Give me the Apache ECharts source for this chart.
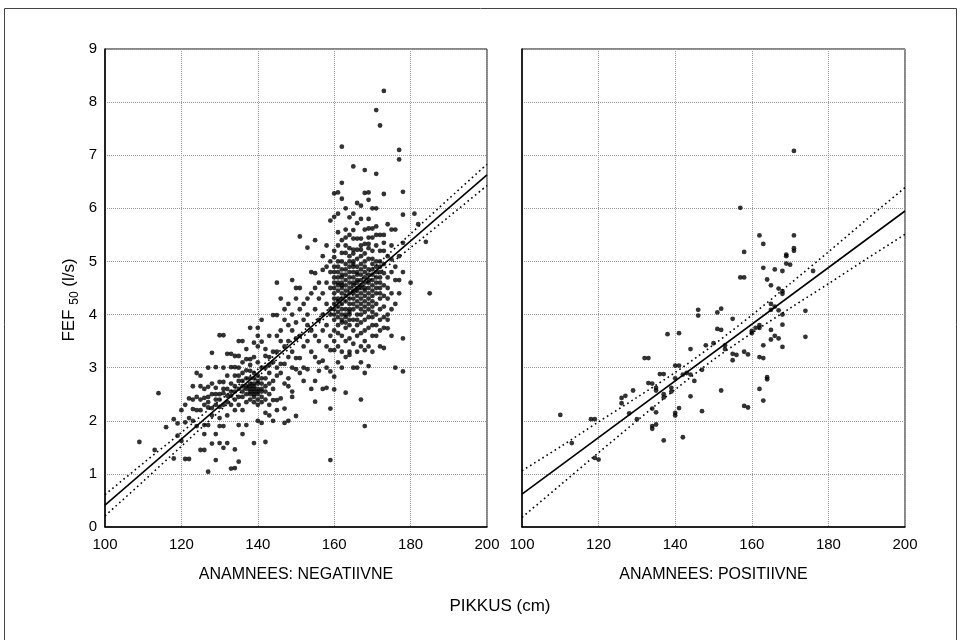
<!DOCTYPE html>
<html>
<head>
<meta charset="utf-8">
<script src="https://cdn.jsdelivr.net/npm/echarts@6/dist/echarts.min.js"></script>
<style>
html,body{margin:0;padding:0;background:#fff;}
#c{width:964px;height:640px;}
</style>
</head>
<body>
<div id="c"></div>
<script>
// ---------- data ----------
const panelTitles = ['ANAMNEES: NEGATIIVNE', 'ANAMNEES: POSITIIVNE'];
const xAxisTitle = 'PIKKUS (cm)';
const xTicks = [100, 120, 140, 160, 180, 200];
const yTicks = [0, 1, 2, 3, 4, 5, 6, 7, 8, 9];

// Left panel (negative history): [height cm, FEF50 l/s]
const negPoints = [
[109,1.6],[113,1.45],[114,2.52],[116,1.88],[118,2.03],[118,1.29],[119,1.95],[119,1.72],[120,2.2],[120,1.62],[121,1.97],[121,2.3],[121,1.28],[122,1.28],
[122,2.42],[122,2.05],[123,2.22],[123,2.65],[123,2.0],[124,2.9],[124,2.2],[124,1.9],[125,2.4],[125,2.65],[125,2.85],[125,1.45],
[126,1.45],[126,1.75],[126,1.92],[126,2.43],[126,2.6],[127,1.04],[127,2.25],[127,2.45],[127,2.64],[127,1.92],[127,3.0],[128,2.24],[128,2.7],[128,3.28],[128,1.57],[128,2.1],
[129,1.26],[129,3.01],[129,2.5],[129,2.3],[129,1.75],[129,2.62],[130,1.58],[130,1.9],[130,2.26],[130,2.73],[130,3.61],[130,2.5],[130,2.05],
[131,1.49],[131,3.61],[131,2.52],[131,2.73],[131,1.9],[131,2.3],[131,3.0],[132,1.58],[132,3.26],[132,2.47],[132,2.1],[132,2.85],[132,2.6],
[133,3.26],[133,3.01],[133,2.47],[133,2.3],[133,2.7],[133,1.1],[134,1.46],[134,3.01],[134,1.11],[134,2.55],[134,3.22],[134,2.85],[134,2.2],
[135,3.22],[135,1.23],[135,1.92],[135,2.3],[135,3.0],[135,2.6],[135,3.5],[135,2.75],[136,3.5],[136,1.75],[136,2.45],[136,2.9],[136,2.65],[136,3.1],[136,2.2],
[137,3.16],[137,2.5],[137,2.35],[137,2.8],[137,1.92],[137,3.35],[137,2.6],[138,2.5],[138,2.94],[138,3.16],[138,2.4],[138,3.05],[138,2.65],[138,2.7],[138,3.75],
[139,1.58],[139,3.47],[139,2.55],[139,2.45],[139,2.9],[139,3.2],[139,2.35],[139,2.7],[139,2.5],[140,3.75],[140,2.5],[140,2.4],[140,3.4],[140,2.6],[140,2.85],[140,2.0],[140,3.1],[140,2.3],[140,3.6],
[141,2.35],[141,3.49],[141,1.96],[141,2.7],[141,3.9],[141,2.55],[141,3.0],[141,2.45],[142,3.22],[142,2.4],[142,1.6],[142,2.15],[142,3.0],[142,2.8],[142,3.35],[142,2.55],
[143,3.05],[143,2.5],[143,2.9],[143,2.3],[143,3.6],[143,3.2],[143,2.1],[143,2.7],[144,3.1],[144,2.39],[144,3.99],[144,2.75],[144,2.0],[144,3.3],[144,2.6],
[145,2.39],[145,3.99],[145,3.0],[145,3.3],[145,3.6],[145,2.2],[145,4.6],[145,2.85],
[146,2.42],[146,3.07],[146,3.5],[146,2.9],[146,3.7],[146,4.3],[147,1.96],[147,3.07],[147,2.23],[147,3.4],[147,2.7],[147,3.9],[147,4.1],
[148,2.8],[148,2.65],[148,3.2],[148,3.5],[148,3.8],[148,4.2],[148,2.0],[149,2.55],[149,2.45],[149,4.65],[149,3.3],[149,3.0],[149,3.7],[149,4.0],
[150,2.09],[150,3.18],[150,2.97],[150,4.5],[150,3.55],[150,3.85],[150,4.3],[151,5.47],[151,3.18],[151,4.5],[151,2.9],[151,3.6],[151,4.1],[152,3.0],[152,3.4],[152,3.9],[152,4.2],[152,2.75],
[153,2.97],[153,5.26],[153,3.5],[153,4.3],[153,3.8],[153,4.0],[154,3.3],[154,4.4],[154,3.7],[154,2.6],[154,4.8],
[155,5.4],[155,4.78],[155,2.75],[155,2.36],[155,3.6],[155,4.1],[155,4.5],[155,3.2],[156,2.94],[156,3.9],[156,4.3],[156,3.5],[156,4.6],[156,3.1],
[157,5.1],[157,3.13],[157,4.84],[157,4.0],[157,3.7],[157,4.4],[157,2.6],[158,2.62],[158,4.2],[158,3.8],[158,4.9],[158,3.4],[158,4.6],[158,3.0],[158,5.3],
[159,5.77],[159,2.93],[159,2.23],[159,1.26],[159,3.33],[159,4.1],[159,4.5],[159,4.0],[159,3.6],[159,4.8],[159,5.0],
[160,6.28],[160,5.84],[160,5.08],[160,2.83],[160,2.59],[160,3.33],[160,4.0],[160,4.2],[160,4.4],[160,4.6],[160,4.8],[160,3.9],[160,4.1],[160,3.7],[160,5.2],[160,4.3],[160,3.5],[160,4.9],
[161,5.0],[161,4.7],[161,4.45],[161,4.15],[161,3.95],[161,3.8],[161,4.05],[161,5.3],[161,5.55],[161,3.4],[161,4.3],[161,4.9],[161,3.1],[161,4.6],[161,5.9],[161,6.3],
[162,7.16],[162,6.48],[162,6.18],[162,5.16],[162,4.85],[162,4.6],[162,4.4],[162,4.2],[162,4.0],[162,3.85],[162,3.6],[162,3.3],[162,5.0],[162,4.7],[162,4.5],[162,5.4],[162,3.9],[162,4.1],[162,3.0],
[163,2.53],[163,5.16],[163,4.95],[163,4.75],[163,4.55],[163,4.35],[163,4.1],[163,3.95],[163,3.75],[163,3.5],[163,5.3],[163,5.6],[163,4.0],[163,4.25],[163,4.65],[163,3.2],[163,6.0],
[164,3.24],[164,5.83],[164,4.8],[164,4.6],[164,4.4],[164,4.2],[164,4.0],[164,3.8],[164,3.55],[164,5.0],[164,5.25],[164,4.9],[164,4.3],[164,4.05],[164,3.9],[164,5.5],[164,3.3],
[165,6.79],[165,5.59],[165,5.43],[165,5.22],[165,5.0],[165,4.8],[165,4.6],[165,4.45],[165,4.3],[165,4.1],[165,3.9],[165,3.7],[165,3.45],[165,4.95],[165,4.7],[165,4.2],[165,3.0],[165,5.9],
[166,5.72],[166,5.43],[166,5.22],[166,3.0],[166,4.9],[166,4.65],[166,4.5],[166,4.35],[166,4.15],[166,4.0],[166,3.8],[166,3.6],[166,3.3],[166,5.05],[166,4.75],[166,4.25],[166,6.1],
[167,6.05],[167,5.43],[167,5.22],[167,2.4],[167,4.95],[167,4.75],[167,4.55],[167,4.4],[167,4.2],[167,4.0],[167,3.85],[167,3.65],[167,3.4],[167,5.1],[167,4.85],[167,4.3],[167,3.1],[167,5.8],
[168,6.72],[168,6.29],[168,5.33],[168,3.33],[168,2.9],[168,1.9],[168,5.0],[168,4.8],[168,4.6],[168,4.45],[168,4.25],[168,4.05],[168,3.9],[168,3.7],[168,5.15],[168,4.9],[168,4.35],[168,3.5],[168,5.6],
[169,6.16],[169,5.62],[169,5.33],[169,3.03],[169,5.05],[169,4.85],[169,4.65],[169,4.5],[169,4.3],[169,4.1],[169,3.95],[169,3.75],[169,5.25],[169,4.2],[169,3.4],[169,5.8],[169,6.3],
[170,5.62],[170,5.45],[170,5.2],[170,4.95],[170,4.75],[170,4.55],[170,4.35],[170,4.15],[170,3.95],[170,3.8],[170,3.6],[170,5.05],[170,4.45],[170,6.0],[170,3.3],
[171,7.85],[171,6.65],[171,6.0],[171,5.66],[171,5.3],[171,5.0],[171,4.8],[171,4.6],[171,4.4],[171,4.2],[171,4.0],[171,3.8],[171,5.5],[171,4.9],[171,3.6],
[172,7.56],[172,5.5],[172,5.2],[172,4.9],[172,4.7],[172,4.5],[172,4.3],[172,4.1],[172,3.9],[172,3.7],[172,5.0],[172,4.6],[172,3.4],
[173,8.21],[173,6.27],[173,5.5],[173,5.2],[173,3.37],[173,4.78],[173,4.55],[173,4.35],[173,4.15],[173,3.95],[173,4.95],[173,3.75],[173,5.35],
[174,3.74],[174,5.1],[174,4.7],[174,4.5],[174,4.3],[174,4.0],[174,5.7],[174,3.9],
[175,5.6],[175,5.04],[175,4.8],[175,4.4],[175,4.1],[175,3.6],[175,5.3],
[176,5.6],[176,4.65],[176,4.9],[176,4.2],[176,3.0],
[177,7.1],[177,6.92],[177,4.65],[177,5.1],[177,4.4],
[178,6.31],[178,5.88],[178,5.35],[178,3.55],[178,2.93],[178,4.8],
[180,4.6],[181,5.9],[182,5.7],[185,4.4],[184,5.37],
[160,4.5],[160,4.7],[161,4.25],[161,4.55],[161,4.8],[162,4.3],[162,4.55],[162,4.75],[163,4.45],[163,4.85],[164,4.5],[164,4.7],[164,4.1],
[165,4.4],[165,4.55],[165,4.9],[166,4.45],[166,4.6],[166,4.8],[167,4.5],[167,4.65],[167,4.1],[168,4.5],[168,4.7],[168,4.15],[169,4.4],
[169,4.6],[169,4.75],[170,4.25],[170,4.65],[170,4.85],[171,4.5],[171,4.7],[172,4.4],[172,4.8],[163,5.45],[165,5.15],[167,5.3],[169,5.45],
[161,3.65],[163,3.85],[166,3.9],[170,4.05],[164,5.1],
[133,2.55],[134,2.65],[135,2.45],[136,2.55],[136,2.75],[137,2.65],[137,2.95],[138,2.55],[138,2.8],[139,2.6],[139,2.8],[140,2.55],[140,2.7],
[141,2.6],[141,2.8],[142,2.65],[135,2.85],[134,2.4],[132,2.35],[131,2.6],[130,2.4],[129,2.4],[128,2.5],[127,2.35],[126,2.3],[125,2.2],
[124,2.45],[123,2.4],[139,2.65],[140,2.75],[138,2.6]
];

// Right panel (positive history)
const posPoints = [
[110,2.11],[113,1.58],[118,2.03],[119,2.03],[119,1.3],[120,1.27],[126,2.43],[127,2.47],[126,2.33],[129,2.57],[128,2.14],[130,2.03],
[132,3.18],[133,3.18],[133,2.71],[134,2.7],[134,1.9],[134,1.85],[135,1.93],[135,2.57],[135,2.62],[136,2.88],[137,2.88],[134,2.23],[135,2.16],
[137,2.5],[137,2.44],[137,1.63],[139,2.55],[139,2.62],[138,3.63],[140,2.8],[140,3.04],[141,3.04],[140,2.15],[140,2.1],[141,3.65],[141,2.24],
[142,1.69],[142,2.87],[143,2.9],[144,2.87],[144,2.46],[144,3.35],[145,2.75],[147,2.96],[147,2.18],[146,4.09],[146,3.98],[148,3.42],[150,3.46],
[151,3.73],[152,3.71],[151,4.04],[152,4.11],[152,2.57],[153,3.42],[153,3.35],[155,3.92],[155,3.26],[156,3.24],[155,3.14],[157,4.7],[158,4.7],
[157,6.01],[158,5.18],[158,3.3],[159,3.25],[158,2.28],[159,2.25],[160,3.69],[160,3.65],[162,3.75],[162,3.8],[162,3.2],[163,3.18],[162,2.6],
[163,2.38],[164,2.82],[164,2.78],[163,3.42],[163,4.88],[162,5.49],[163,5.33],[164,4.66],[165,4.55],[165,3.71],[165,3.53],[165,4.2],[166,4.15],
[166,4.85],[166,3.6],[167,3.55],[167,4.08],[167,4.49],[168,4.44],[168,4.39],[168,3.39],[168,4.0],[168,4.82],[168,3.81],[169,5.13],[169,5.1],
[169,4.96],[170,4.94],[171,5.2],[171,5.25],[171,7.08],[171,5.49],[174,4.07],[174,3.58],[176,4.82],[165,4.09],[161,3.75]
];

// Regression lines and confidence bands (read at x = 100,110,...,200)
const bandX = [100, 110, 120, 130, 140, 150, 160, 170, 180, 190, 200];
const negFit = [[100, 0.41], [200, 6.63]];
const negUpper = [0.61, 1.20, 1.78, 2.38, 2.97, 3.57, 4.20, 4.86, 5.52, 6.18, 6.83];
const negLower = [0.21, 0.86, 1.52, 2.18, 2.83, 3.47, 4.08, 4.68, 5.26, 5.84, 6.43];
const posFit = [[100, 0.62], [200, 5.95]];
const posUpper = [1.06, 1.51, 1.98, 2.44, 2.91, 3.43, 3.99, 4.58, 5.18, 5.79, 6.39];
const posLower = [0.18, 0.79, 1.40, 2.00, 2.59, 3.15, 3.65, 4.12, 4.58, 5.05, 5.51];

// ---------- chart ----------
const chart = echarts.init(document.getElementById('c'), null, {renderer: 'canvas'});
const FONT = '"Liberation Sans", Arial, sans-serif';
const pair = (xs, ys) => xs.map((x, i) => [x, ys[i]]);

function xAx(idx) {
  return {
    type: 'value', gridIndex: idx, min: xTicks[0], max: xTicks[xTicks.length - 1], interval: 20,
    name: panelTitles[idx], nameLocation: 'middle', nameGap: 40,
    nameTextStyle: {fontFamily: FONT, fontSize: 16, color: '#000'},
    axisLine: {show: true, lineStyle: {color: '#000', width: 1.5}},
    axisTick: {show: false},
    axisLabel: {fontFamily: FONT, fontSize: 15, color: '#000', margin: 10},
    splitLine: {show: true, lineStyle: {color: '#999', type: 'dotted', width: 1}}
  };
}
function yAx(idx, labels) {
  return {
    type: 'value', gridIndex: idx, min: yTicks[0], max: yTicks[yTicks.length - 1], interval: 1,
    axisLine: {show: true, lineStyle: {color: '#000', width: 1.5}},
    axisTick: {show: false},
    axisLabel: {show: labels, fontFamily: FONT, fontSize: 15, color: '#000', margin: 8},
    splitLine: {show: true, lineStyle: {color: '#999', type: 'dotted', width: 1}}
  };
}
function scatter(idx, data) {
  return {type: 'scatter', xAxisIndex: idx, yAxisIndex: idx, data: data, symbol: 'circle', symbolSize: 4.8,
    itemStyle: {color: '#000'}, silent: true, z: 2};
}
function line(idx, data, dotted) {
  return {type: 'line', xAxisIndex: idx, yAxisIndex: idx, data: data, symbol: 'none', smooth: dotted ? 0.3 : false,
    lineStyle: dotted ? {color: '#000', width: 1.6, type: [1.6, 3.2]} : {color: '#000', width: 1.6},
    silent: true, z: 3};
}

chart.setOption({
  animation: false,
  backgroundColor: '#fff',
  grid: [
    {left: 105, top: 49, width: 382, height: 478, show: true, borderColor: '#111', borderWidth: 1},
    {left: 522, top: 49, width: 383, height: 478, show: true, borderColor: '#111', borderWidth: 1}
  ],
  xAxis: [xAx(0), xAx(1)],
  yAxis: [yAx(0, true), yAx(1, false)],
  series: [
    scatter(0, negPoints),
    line(0, negFit, false),
    line(0, pair(bandX, negUpper), true),
    line(0, pair(bandX, negLower), true),
    scatter(1, posPoints),
    line(1, posFit, false),
    line(1, pair(bandX, posUpper), true),
    line(1, pair(bandX, posLower), true)
  ],
  graphic: [
    {type: 'rect', shape: {x: 4.5, y: 8.5, width: 952, height: 660}, style: {fill: 'none', stroke: '#444', lineWidth: 1}, silent: true},
    {type: 'text', x: 500, y: 606, style: {text: xAxisTitle, font: '17px ' + FONT, fill: '#000', textAlign: 'center', textVerticalAlign: 'middle'}},
    {type: 'text', x: 69, y: 300, rotation: Math.PI / 2,
      style: {text: '{n|FEF }{s|50}{n| (l/s)}', textAlign: 'center', textVerticalAlign: 'middle', fill: '#000',
        rich: {n: {fontFamily: FONT, fontSize: 17, lineHeight: 24, verticalAlign: 'middle'},
               s: {fontFamily: FONT, fontSize: 12, lineHeight: 24, verticalAlign: 'bottom'}}}}
  ]
});
</script>
</body>
</html>
